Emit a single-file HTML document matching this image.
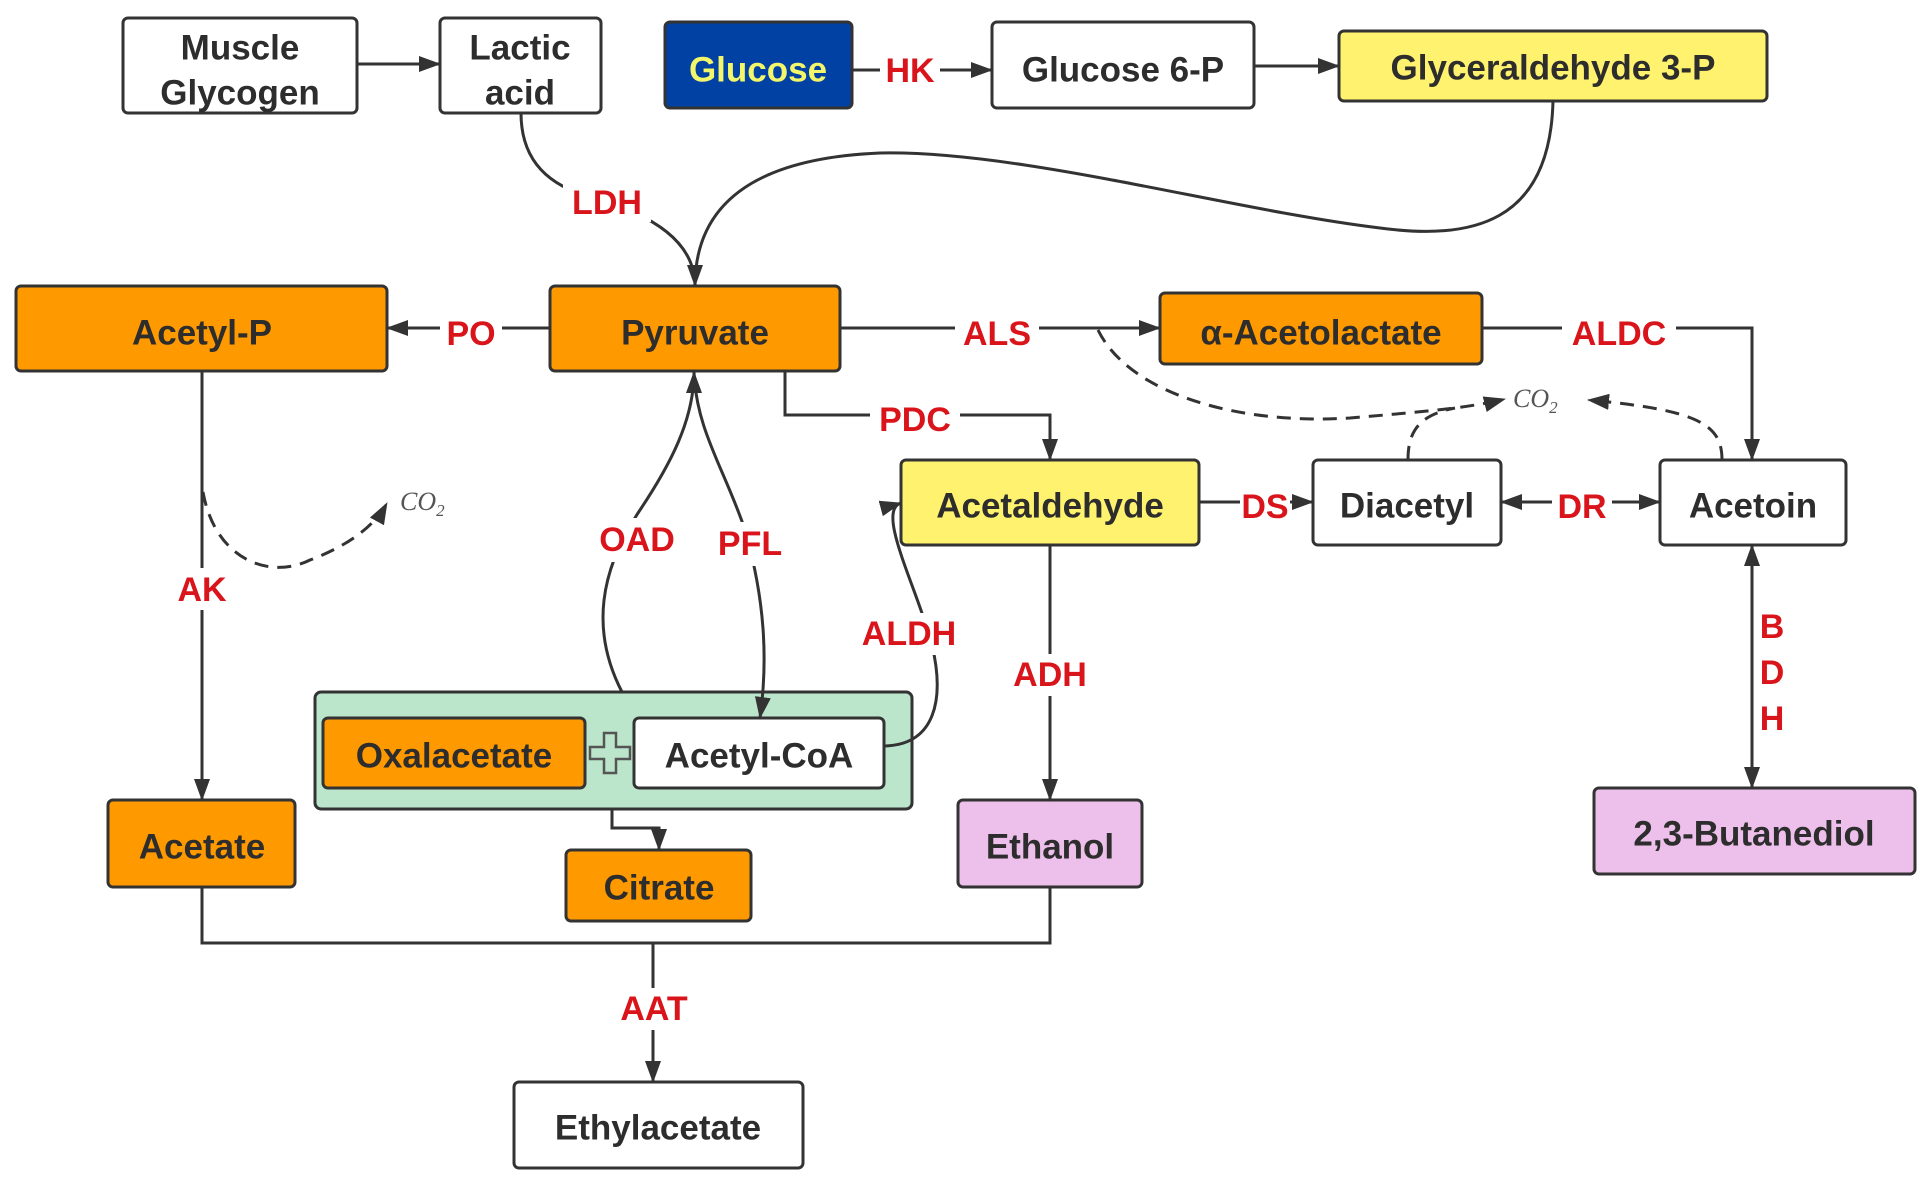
<!DOCTYPE html>
<html><head><meta charset="utf-8"><style>
html,body{margin:0;padding:0;background:#fff;}
svg{display:block;}
.n{font-family:"Liberation Sans",sans-serif;font-weight:bold;font-size:35px;fill:#2d2d2d;text-anchor:middle;dominant-baseline:central;}
.l{font-family:"Liberation Sans",sans-serif;font-weight:bold;font-size:34px;fill:#d9141b;text-anchor:middle;dominant-baseline:central;}
.c{font-family:"Liberation Serif",serif;font-style:italic;font-size:26px;fill:#555;}
.e{fill:none;stroke:#333;stroke-width:3;}
.d{fill:none;stroke:#333;stroke-width:3;stroke-dasharray:14 9;}
.b{stroke:#333;stroke-width:3;}
</style></head><body>
<svg width="1928" height="1180" viewBox="0 0 1928 1180" xmlns="http://www.w3.org/2000/svg">
<defs>
<marker id="a" viewBox="0 0 22 16" refX="21" refY="8" markerWidth="22" markerHeight="16" markerUnits="userSpaceOnUse" orient="auto">
<path d="M0,0 L22,8 L0,16 z" fill="#333"/>
</marker>
<marker id="s" viewBox="0 0 22 16" refX="21" refY="8" markerWidth="22" markerHeight="16" markerUnits="userSpaceOnUse" orient="auto-start-reverse">
<path d="M0,0 L22,8 L0,16 z" fill="#333"/>
</marker>
</defs>

<!-- nodes -->
<rect x="123" y="18" width="234" height="95" rx="5" fill="#fff" class="b"/>
<text class="n" x="240" y="48">Muscle</text><text class="n" x="240" y="93">Glycogen</text>
<rect x="440" y="18" width="161" height="95" rx="5" fill="#fff" class="b"/>
<text class="n" x="520" y="48">Lactic</text><text class="n" x="520" y="93">acid</text>
<rect x="665" y="22" width="187" height="86" rx="5" fill="#0041a3" class="b"/>
<text class="n" x="758" y="70" style="fill:#f3f56a">Glucose</text>
<rect x="992" y="22" width="262" height="86" rx="5" fill="#fff" class="b"/>
<text class="n" x="1123" y="70">Glucose 6-P</text>
<rect x="1339" y="31" width="428" height="70" rx="5" fill="#fff26e" class="b"/>
<text class="n" x="1553" y="68">Glyceraldehyde 3-P</text>
<rect x="16" y="286" width="371" height="85" rx="5" fill="#ff9900" class="b"/>
<text class="n" x="202" y="333">Acetyl-P</text>
<rect x="550" y="286" width="290" height="85" rx="5" fill="#ff9900" class="b"/>
<text class="n" x="695" y="333">Pyruvate</text>
<rect x="1160" y="293" width="322" height="71" rx="5" fill="#ff9900" class="b"/>
<text class="n" x="1321" y="333">α-Acetolactate</text>
<rect x="901" y="460" width="298" height="85" rx="5" fill="#fff26e" class="b"/>
<text class="n" x="1050" y="506">Acetaldehyde</text>
<rect x="1313" y="460" width="188" height="85" rx="5" fill="#fff" class="b"/>
<text class="n" x="1407" y="506">Diacetyl</text>
<rect x="1660" y="460" width="186" height="85" rx="5" fill="#fff" class="b"/>
<text class="n" x="1753" y="506">Acetoin</text>
<rect x="315" y="692" width="597" height="117" rx="6" fill="#bce6cb" class="b"/>
<rect x="323" y="718" width="262" height="70" rx="5" fill="#ff9900" class="b"/>
<text class="n" x="454" y="756">Oxalacetate</text>
<rect x="634" y="718" width="250" height="70" rx="5" fill="#fff" class="b"/>
<text class="n" x="759" y="756">Acetyl-CoA</text>
<path d="M604,733 h12 v14 h14 v12 h-14 v14 h-12 v-14 h-14 v-12 h14 z" fill="none" stroke="#555" stroke-width="2.5"/>
<rect x="108" y="800" width="187" height="87" rx="5" fill="#ff9900" class="b"/>
<text class="n" x="202" y="847">Acetate</text>
<rect x="566" y="850" width="185" height="71" rx="5" fill="#ff9900" class="b"/>
<text class="n" x="659" y="888">Citrate</text>
<rect x="958" y="800" width="184" height="87" rx="5" fill="#edbfeb" class="b"/>
<text class="n" x="1050" y="847">Ethanol</text>
<rect x="1594" y="788" width="321" height="86" rx="5" fill="#edbfeb" class="b"/>
<text class="n" x="1754" y="834">2,3-Butanediol</text>
<rect x="514" y="1082" width="289" height="86" rx="5" fill="#fff" class="b"/>
<text class="n" x="658" y="1128">Ethylacetate</text>

<!-- connectors -->
<path class="e" d="M357,64 H440" marker-end="url(#a)"/>
<path class="e" d="M852,70 H992" marker-end="url(#a)"/>
<path class="e" d="M1254,66 H1339" marker-end="url(#a)"/>
<path class="e" d="M521,113 C521,170 560,190 600,200 C650,215 695,240 695,286" marker-end="url(#a)"/>
<path class="e" d="M1553,101 C1550,225 1470,240 1380,228 C1230,210 1020,150 880,153 C760,158 695,200 695,286"/>
<path class="e" d="M550,328 H387" marker-end="url(#a)"/>
<path class="e" d="M840,328 H1160" marker-end="url(#a)"/>
<path class="e" d="M1482,328 H1752 V460" marker-end="url(#a)"/>
<path class="e" d="M785,371 V415 H1050 V460" marker-end="url(#a)"/>
<path class="e" d="M1199,502 H1313" marker-end="url(#a)"/>
<path class="e" d="M1501,502 H1660" marker-start="url(#s)" marker-end="url(#a)"/>
<path class="e" d="M1050,545 V800" marker-end="url(#a)"/>
<path class="e" d="M1752,545 V788" marker-start="url(#s)" marker-end="url(#a)"/>
<path class="e" d="M202,371 V800" marker-end="url(#a)"/>
<path class="e" d="M622,692 C590,630 600,570 640,510 C670,465 694,420 694,372" marker-end="url(#a)"/>
<path class="e" d="M694,372 C696,430 725,470 745,530 C765,600 768,660 760,718" marker-end="url(#a)"/>
<path class="e" d="M884,746 C935,745 945,700 932,645 C918,590 875,510 901,503" marker-end="url(#a)"/>
<path class="e" d="M612,808 V828 H659 V850" marker-end="url(#a)"/>
<path class="e" d="M202,887 V943 H1050 V887"/>
<path class="e" d="M653,943 V1082" marker-end="url(#a)"/>
<!-- dashed -->
<path class="d" d="M203,492 C215,560 270,580 310,560 C350,545 375,525 387,503" marker-end="url(#a)"/>
<path class="d" d="M1098,330 C1130,395 1240,425 1350,418 C1420,412 1470,408 1505,399" marker-end="url(#a)"/>
<path class="d" d="M1408,460 C1408,430 1420,415 1455,408"/>
<path class="d" d="M1722,460 C1722,425 1700,410 1588,400" marker-end="url(#a)"/>

<!-- labels -->
<g fill="#fff">
<rect x="880" y="52" width="60" height="36"/>
<rect x="563" y="184" width="88" height="38"/>
<rect x="440" y="316" width="62" height="36"/>
<rect x="955" y="316" width="84" height="36"/>
<rect x="1562" y="316" width="114" height="36"/>
<rect x="870" y="402" width="90" height="36"/>
<rect x="1240" y="489" width="50" height="36"/>
<rect x="1552" y="489" width="60" height="36"/>
<rect x="584" y="518" width="106" height="44"/>
<rect x="706" y="522" width="88" height="44"/>
<rect x="850" y="613" width="118" height="42"/>
<rect x="998" y="654" width="104" height="42"/>
<rect x="176" y="568" width="52" height="42"/>
<rect x="604" y="988" width="98" height="42"/>
</g>
<text class="l" x="910" y="71">HK</text>
<text class="l" x="607" y="203">LDH</text>
<text class="l" x="471" y="334">PO</text>
<text class="l" x="997" y="334">ALS</text>
<text class="l" x="1619" y="334">ALDC</text>
<text class="l" x="915" y="420">PDC</text>
<text class="l" x="1265" y="507">DS</text>
<text class="l" x="1582" y="507">DR</text>
<text class="l" x="637" y="540">OAD</text>
<text class="l" x="750" y="544">PFL</text>
<text class="l" x="909" y="634">ALDH</text>
<text class="l" x="1050" y="675">ADH</text>
<text class="l" x="202" y="590">AK</text>
<text class="l" x="1772" y="627">B</text>
<text class="l" x="1772" y="673">D</text>
<text class="l" x="1772" y="719">H</text>
<text class="l" x="654" y="1009">AAT</text>
<text class="c" x="400" y="510">CO<tspan font-size="17" dy="6">2</tspan></text>
<text class="c" x="1513" y="407">CO<tspan font-size="17" dy="6">2</tspan></text>
</svg>
</body></html>
